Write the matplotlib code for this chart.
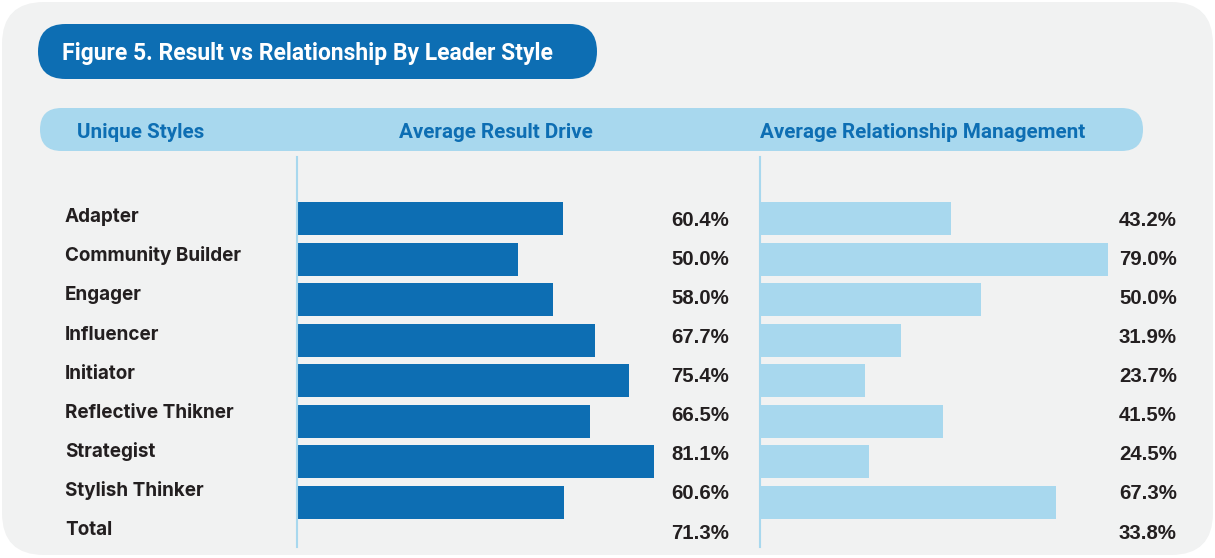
import matplotlib
matplotlib.use("Agg")
import matplotlib.pyplot as plt
from matplotlib.patches import FancyBboxPatch

# ---- data ----
styles = ["Adapter", "Community Builder", "Engager", "Influencer", "Initiator",
          "Reflective Thikner", "Strategist", "Stylish Thinker", "Total"]
result_drive = [60.4, 50.0, 58.0, 67.7, 75.4, 66.5, 81.1, 60.6, 71.3]
relationship = [43.2, 79.0, 50.0, 31.9, 23.7, 41.5, 24.5, 67.3, 33.8]
title = "Figure 5. Result vs Relationship By Leader Style"
headers = ["Unique Styles", "Average Result Drive", "Average Relationship Management"]

# ---- style ----
W, H = 1215, 558
DARK = "#0d6eb3"
LIGHT = "#a8d8ee"
BG = "#f1f2f2"
TXT = "#231f20"

fig = plt.figure(figsize=(W / 100, H / 100), dpi=100)
fig.patch.set_facecolor("white")

bg = fig.add_axes([0, 0, 1, 1])
bg.set_xlim(0, W)
bg.set_ylim(H, 0)
bg.axis("off")

bg.add_patch(FancyBboxPatch((2, 2), W - 4, H - 5,
                            boxstyle="round,pad=0,rounding_size=42",
                            fc=BG, ec="none"))
bg.add_patch(FancyBboxPatch((38, 24), 559, 55,
                            boxstyle="round,pad=0,rounding_size=27.5",
                            fc=DARK, ec="none"))
bg.add_patch(FancyBboxPatch((40, 108), 1103, 43,
                            boxstyle="round,pad=0,rounding_size=21.5",
                            fc=LIGHT, ec="none"))

bg.text(62, 60, title, color="white", fontsize=16.5, fontweight="bold",
        family="Roboto", va="baseline", ha="left")
for hx, h in zip([77, 399, 760], headers):
    bg.text(hx, 138, h, color=DARK, fontsize=14.9, fontweight="bold",
            family="Roboto", va="baseline", ha="left")

# labels and values
pitch = 39.07
for i, s in enumerate(styles):
    bg.text(65, 222.3 + pitch * i, s, color=TXT, fontsize=13.6,
            fontweight="bold", family="Inter", va="baseline", ha="left")
    bg.text(671, 226 + pitch * i, f"{result_drive[i]:.1f}%", color=TXT,
            fontsize=14.7, fontweight="bold", family="Liberation Sans",
            va="baseline", ha="left")
    bg.text(1119, 226 + pitch * i, f"{relationship[i]:.1f}%", color=TXT,
            fontsize=14.7, fontweight="bold", family="Liberation Sans",
            va="baseline", ha="left")

# bar panels (Total row shown as text only)
n_bars = len(styles) - 1
row0, row_pitch = 218.5, 40.5
top_px, bot_px = 157, 547
ylim_top = (top_px - row0) / row_pitch
ylim_bot = (bot_px - row0) / row_pitch
bar_h = 33 / row_pitch

for left_px, vals, col in [(297, result_drive, DARK), (760, relationship, LIGHT)]:
    ax = fig.add_axes([left_px / W, 1 - bot_px / H, 440 / W, (bot_px - top_px) / H])
    ax.set_facecolor("none")
    ax.barh(range(n_bars), vals[:n_bars], height=bar_h, color=col,
            edgecolor="none", left=0)
    ax.set_xlim(-0.25, 100)
    ax.set_ylim(ylim_bot, ylim_top)
    for sp in ["top", "right", "bottom"]:
        ax.spines[sp].set_visible(False)
    ax.spines["left"].set_color(LIGHT)
    ax.spines["left"].set_linewidth(1.5)
    ax.spines["left"].set_position(("data", -0.25))
    ax.set_xticks([])
    ax.set_yticks([])

fig.savefig("out.png", dpi=100, facecolor=fig.get_facecolor())
